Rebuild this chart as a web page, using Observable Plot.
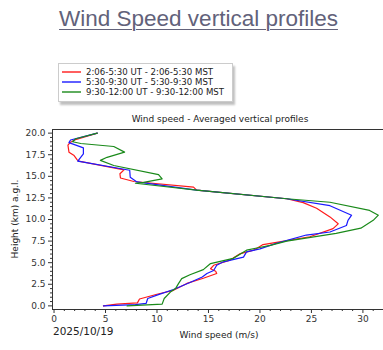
<!DOCTYPE html>
<html>
<head>
<meta charset="utf-8">
<script src="https://cdn.jsdelivr.net/npm/d3@7"></script>
<script src="https://cdn.jsdelivr.net/npm/@observablehq/plot@0.6"></script>
<style>
  html, body { margin: 0; padding: 0; background: #fff; }
  body { width: 383px; height: 350px; position: relative; overflow: hidden; font-family: "DejaVu Sans", sans-serif; }
  #page-title { position: absolute; left: 14px; width: 369px; top: 6px; text-align: center; font-family: "Liberation Sans", Arial, sans-serif; font-size: 22.5px; color: #62627a; text-decoration: underline; text-decoration-thickness: 1px; text-underline-offset: 3px; }
  #chart { position: absolute; left: 0; top: 0; }
  .abs { position: absolute; white-space: nowrap; color: #222; }
  #legend { position: absolute; left: 58px; top: 63px; width: 173px; height: 37px; border: 1px solid #ccc; background: #fff; box-shadow: 2px 3px 2px rgba(0,0,0,0.25); }
</style>
</head>
<body>
<div id="page-title">Wind Speed vertical profiles</div>
<div id="chart"></div>
<div id="legend"></div>
<div class="abs" id="plot-title" style="font-size:9px; top:114px; left:220px; transform:translateX(-50%);">Wind speed - Averaged vertical profiles</div>
<div class="abs" style="font-size:10.5px; top:325px; left:53px;">2025/10/19</div>
<div class="abs" style="font-size:9px; top:330px; left:219px; transform:translateX(-50%);">Wind speed (m/s)</div>
<div class="abs" style="font-size:9px; top:219px; left:15px; transform:translate(-50%,-50%) rotate(-90deg);">Height (km) a.g.l.</div>
<script>
// Series: 2:06-5:30 UT (red)
const redHeight = [20.0, 19.2, 18.95, 18.6, 17.8, 17.4, 16.9, 16.75, 15.75, 15.3, 14.8, 14.4, 13.75, 13.4, 12.4, 11.95, 11.3, 10.3, 9.5, 8.95, 8.0, 7.4, 7.1, 6.45, 6.05, 5.3, 4.7, 4.3, 4.0, 3.75, 3.2, 2.6, 1.8, 1.35, 0.8, 0.35, 0.2, 0.0];
const redSpeed  = [4.2, 2.0, 1.6, 1.35, 1.45, 1.95, 2.25, 2.4, 6.8, 6.4, 6.45, 7.75, 13.55, 13.85, 22.6, 24.2, 25.5, 26.8, 27.6, 27.1, 24.85, 21.9, 20.3, 19.4, 18.1, 17.1, 15.5, 15.2, 15.7, 15.8, 14.5, 12.9, 11.6, 10.0, 8.3, 8.1, 6.1, 4.8];
// Series: 5:30-9:30 UT (blue)
const blueHeight = [20.0, 19.2, 18.9, 18.3, 17.6, 16.9, 16.75, 15.7, 14.9, 14.35, 13.4, 12.4, 11.6, 10.5, 9.9, 9.3, 8.55, 8.2, 7.2, 6.6, 6.25, 5.65, 5.1, 4.7, 4.1, 3.75, 3.35, 2.7, 1.9, 1.25, 0.85, 0.3, 0.15, 0.0];
const blueSpeed  = [4.2, 1.6, 1.45, 2.85, 2.85, 2.4, 2.3, 7.35, 7.4, 8.05, 13.85, 22.6, 26.8, 28.9, 28.55, 28.4, 26.8, 24.5, 21.5, 20.0, 18.7, 18.4, 16.45, 15.8, 15.5, 14.85, 14.4, 13.2, 11.6, 10.0, 9.1, 8.95, 7.9, 4.8];
// Series: 9:30-12:00 UT (green)
const greenHeight = [20.0, 19.35, 19.0, 18.8, 18.45, 17.8, 17.2, 16.85, 16.25, 15.2, 14.7, 14.3, 14.2, 13.4, 12.4, 12.0, 11.05, 10.5, 9.9, 9.0, 8.4, 7.5, 7.0, 6.7, 6.45, 5.5, 4.9, 4.2, 3.6, 3.15, 2.6, 2.0, 1.6, 0.85, 0.2, 0.0];
const greenSpeed  = [4.2, 2.1, 1.8, 2.6, 5.8, 6.85, 5.15, 4.5, 5.8, 10.15, 10.5, 8.7, 7.9, 13.85, 22.6, 26.8, 30.65, 31.5, 31.0, 29.8, 27.4, 22.6, 21.0, 19.7, 18.7, 17.4, 15.2, 14.5, 13.2, 12.4, 12.1, 11.8, 11.3, 10.7, 10.5, 7.1];

const seriesNames = ["2:06-5:30 UT - 2:06-5:30 MST", "5:30-9:30 UT - 5:30-9:30 MST", "9:30-12:00 UT - 9:30-12:00 MST"];
const seriesColors = ["#ff1a1a", "#1a1aff", "#1a8a1a"];

const xMajorTicks = [0, 5, 10, 15, 20, 25, 30];
const yMajorTicks = [0, 2.5, 5, 7.5, 10, 12.5, 15, 17.5, 20];

const xDomain = [-0.15, 32];
const yDomain = [-0.42, 20.42];
const xMinorTicks = d3.range(0, 33, 1).filter(v => v % 5 !== 0);
const yMinorTicks = d3.range(0, 20.01, 0.5).filter(v => Math.abs(v / 2.5 - Math.round(v / 2.5)) > 1e-6);

const zip = (hs, vs) => hs.map((h, i) => ({h, v: vs[i]}));
const allSeries = [zip(redHeight, redSpeed), zip(blueHeight, blueSpeed), zip(greenHeight, greenSpeed)];

const axisColor = "#333";
const chart = Plot.plot({
  width: 383, height: 350,
  marginLeft: 52, marginRight: 0, marginTop: 129, marginBottom: 41,
  style: {fontFamily: "DejaVu Sans, sans-serif", fontSize: "9px", color: axisColor, background: "transparent", overflow: "visible"},
  x: {domain: xDomain},
  y: {domain: yDomain},
  marks: [
    ...allSeries.map((s, i) => Plot.line(s, {x: "v", y: "h", stroke: seriesColors[i], strokeWidth: 1.2})),
    Plot.ruleY([yDomain[0]], {stroke: axisColor, strokeWidth: 1}),
    Plot.ruleY([yDomain[1]], {stroke: axisColor, strokeWidth: 1}),
    Plot.ruleX([xDomain[0]], {stroke: axisColor, strokeWidth: 1}),
    Plot.axisX(xMajorTicks, {tickSize: 4, tickPadding: 2, tickFormat: d => String(d), label: null, fontSize: 9, stroke: axisColor}),
    Plot.axisX(xMinorTicks, {tickSize: 2, tickFormat: () => "", label: null, stroke: axisColor}),
    Plot.axisY(yMajorTicks, {tickSize: 4, tickPadding: 3, tickFormat: d => d.toFixed(1), label: null, fontSize: 9, stroke: axisColor}),
    Plot.axisY(yMinorTicks, {tickSize: 2, tickFormat: () => "", label: null, stroke: axisColor})
  ]
});
document.getElementById("chart").appendChild(chart);

// Legend built as a small SVG
const svgNS = "http://www.w3.org/2000/svg";
const lsvg = document.createElementNS(svgNS, "svg");
lsvg.setAttribute("width", "173");
lsvg.setAttribute("height", "37");
lsvg.style.display = "block";
seriesNames.forEach((name, i) => {
  const y = 8 + i * 10;
  const ln = document.createElementNS(svgNS, "line");
  ln.setAttribute("x1", "3"); ln.setAttribute("x2", "22");
  ln.setAttribute("y1", String(y)); ln.setAttribute("y2", String(y));
  ln.setAttribute("stroke", seriesColors[i]);
  ln.setAttribute("stroke-width", "1.4");
  lsvg.appendChild(ln);
  const tx = document.createElementNS(svgNS, "text");
  tx.setAttribute("x", "27"); tx.setAttribute("y", String(y));
  tx.setAttribute("dy", "0.35em");
  tx.setAttribute("font-family", "DejaVu Sans, sans-serif");
  tx.setAttribute("font-size", "8.6");
  tx.setAttribute("fill", "#222");
  tx.textContent = name;
  lsvg.appendChild(tx);
});
document.getElementById("legend").appendChild(lsvg);
</script>
</body>
</html>
